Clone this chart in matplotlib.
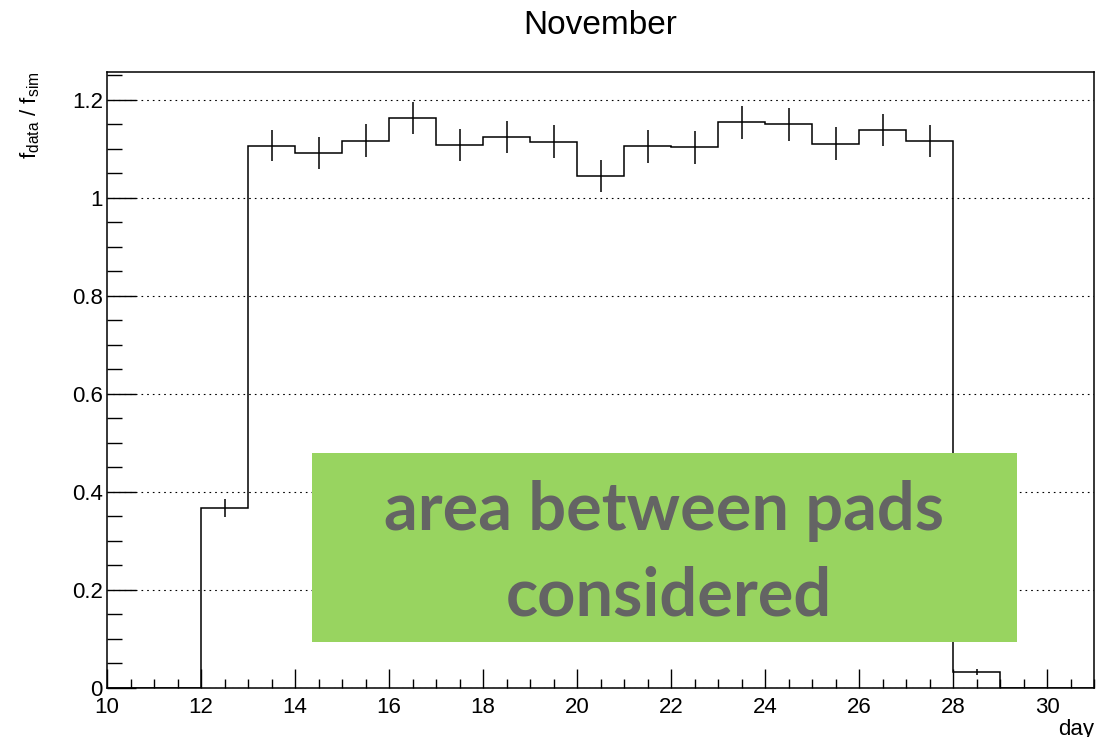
import matplotlib
matplotlib.use("Agg")
import matplotlib.pyplot as plt
import numpy as np
from matplotlib.patches import Rectangle
from matplotlib.ticker import MultipleLocator

plt.rcParams['font.family'] = ['Liberation Sans', 'DejaVu Sans']
plt.rcParams['mathtext.fontset'] = 'custom'
plt.rcParams['mathtext.rm'] = 'Liberation Sans'
plt.rcParams['mathtext.it'] = 'Liberation Sans'
plt.rcParams['mathtext.bf'] = 'Liberation Sans:bold'

# Histogram of data/simulation ratio per day (bins of width 1 from day 10 to 31)
bin_edges = np.arange(10, 32, 1)
ratio = [0, 0, 0.367, 1.107, 1.092, 1.117, 1.163, 1.108, 1.124, 1.115, 1.045,
         1.105, 1.103, 1.154, 1.150, 1.111, 1.139, 1.116, 0.032, 0, 0]
ratio_err = [0, 0, 0.018, 0.032, 0.033, 0.033, 0.033, 0.033, 0.033, 0.033, 0.032,
             0.033, 0.033, 0.034, 0.034, 0.033, 0.033, 0.033, 0.006, 0, 0]

title = "November"
xlabel = "day"
ylabel = r"$\mathrm{f_{data}}$ / $\mathrm{f_{sim}}$"
note_lines = ["area between pads", "considered"]

W, H = 1107, 737
AX_L, AX_R, AX_T, AX_B = 107, 1094, 72, 688
fig = plt.figure(figsize=(W / 100, H / 100), dpi=100)
ax = fig.add_axes([AX_L / W, 1 - AX_B / H, (AX_R - AX_L) / W, (AX_B - AX_T) / H])

ax.stairs(ratio, bin_edges, baseline=0, color='black', lw=1.1, zorder=3)

centers = 0.5 * (bin_edges[:-1] + bin_edges[1:])
vals = np.array(ratio)
errs = np.array(ratio_err)
mask = vals > 0
ax.errorbar(centers[mask], vals[mask], yerr=errs[mask], fmt='none',
            ecolor='black', elinewidth=1.1, capsize=0, zorder=3)

ax.set_xlim(10, 31)
ax.set_ylim(0, 1.257)

ax.xaxis.set_major_locator(MultipleLocator(2))
ax.xaxis.set_minor_locator(MultipleLocator(0.5))
ax.yaxis.set_major_locator(MultipleLocator(0.2))
ax.yaxis.set_minor_locator(MultipleLocator(0.05))

ax.tick_params(axis='x', which='major', direction='in', length=13.5, width=1.0,
               labelsize=16, pad=6.5, top=False)
ax.tick_params(axis='x', which='minor', direction='in', length=6.8, width=1.0, top=False)
ax.tick_params(axis='y', which='major', direction='in', length=21, width=1.0,
               labelsize=16, pad=3, right=False)
ax.tick_params(axis='y', which='minor', direction='in', length=10.7, width=1.0, right=False)

ax.set_xticks(np.arange(10, 31, 2))
ax.set_xticklabels([str(v) for v in range(10, 31, 2)])
ax.set_yticks([0, 0.2, 0.4, 0.6, 0.8, 1.0, 1.2])
ax.set_yticklabels(['0', '0.2', '0.4', '0.6', '0.8', '1', '1.2'])

ax.yaxis.grid(True, which='major', color='black', lw=0.8, linestyle=(0, (1.5, 3.6)))
ax.set_axisbelow(True)

for s in ax.spines.values():
    s.set_linewidth(1.1)

fig.text((AX_L + AX_R) / 2 / W, 1 - 34.3 / H, title, ha='center', va='baseline',
         fontsize=24)
fig.text(AX_R / W, 1 - 719 / H, xlabel, ha='right', va='top', fontsize=16)
fig.text(30 / W, 1 - 72 / H, ylabel, rotation=90, ha='center', va='top', fontsize=16)

# Overlay note box
box = Rectangle((312 / W, 1 - 642 / H), (1017 - 312) / W, (642 - 453) / H,
                transform=fig.transFigure, facecolor='#98d460', edgecolor='none',
                zorder=10)
fig.patches.append(box)
note_font = dict(fontsize=48, color='#646464', family=['Lato', 'DejaVu Sans'],
                 fontweight='bold', zorder=11)
fig.text(664 / W, 1 - 530 / H, note_lines[0], ha='center', va='baseline', **note_font)
fig.text(669 / W, 1 - 616 / H, note_lines[1], ha='center', va='baseline', **note_font)

fig.savefig("out.png", dpi=100)
